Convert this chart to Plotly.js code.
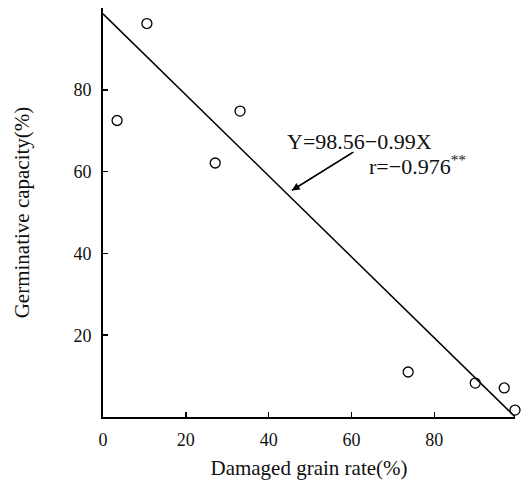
<!DOCTYPE html>
<html>
<head>
<meta charset="utf-8">
<script src="https://cdn.plot.ly/plotly-3.0.1.min.js"></script>
<style>html,body{margin:0;padding:0;background:#fff;}#chart{width:528px;height:490px;}</style>
</head>
<body>
<div id="chart"></div>
<script>
const damagedRate = [3.4, 10.6, 27.1, 33.1, 73.7, 89.9, 96.9, 99.5];
const germCapacity = [72.5, 96.2, 62.1, 74.8, 11.0, 8.3, 7.1, 1.7];
// Regression line Y = 98.56 - 0.99X
const regIntercept = 98.56;
const regSlope = -0.99;
const regX = [0, 99.56];
const regY = regX.map(x => regIntercept + regSlope * x);
const xTicks = [0, 20, 40, 60, 80];
const yTicks = [20, 40, 60, 80];

const font = "'Liberation Serif', 'Times New Roman', serif";

const traces = [
  {x: regX, y: regY, mode: 'lines', line: {color: '#000', width: 1.5}, hoverinfo: 'skip', cliponaxis: false},
  {x: damagedRate, y: germCapacity, mode: 'markers', cliponaxis: false,
   marker: {symbol: 'circle-open', size: 10, color: '#000', line: {width: 1.3, color: '#000'}}}
];

const pw = 528 - 103 - 13, ph = 490 - 8 - 73;
const px = v => (v - 103) / pw, py = v => 1 - (v - 8) / ph;

// arrow pointing at the regression line (head, tail)
const arrowHead = [45.6, 55.4];
const arrowTail = [60.5, 64.8];

const layout = {
  width: 528, height: 490,
  margin: {l: 103, r: 13, t: 8, b: 73},
  paper_bgcolor: '#fff', plot_bgcolor: '#fff',
  showlegend: false,
  font: {family: font, size: 18, color: '#111'},
  xaxis: {
    range: [0, 99.5], tickvals: xTicks, ticks: 'inside', ticklen: 5, tickwidth: 1.5, tickcolor: '#000',
    showline: true, linecolor: '#000', linewidth: 2, showgrid: false, zeroline: false,
    tickfont: {family: font, size: 18}, ticklabelstandoff: 5,
    title: {text: 'Damaged grain rate(%)', font: {family: font, size: 21}, standoff: 12}
  },
  yaxis: {
    range: [0, 100], tickvals: yTicks, ticks: 'inside', ticklen: 5, tickwidth: 1.5, tickcolor: '#000',
    showline: true, linecolor: '#000', linewidth: 2, showgrid: false, zeroline: false,
    tickfont: {family: font, size: 18}, ticklabelstandoff: 6,
    title: {text: 'Germinative capacity(%)', font: {family: font, size: 21}, standoff: 38}
  },
  shapes: [
    {type: 'line', xref: 'x', yref: 'y', x0: arrowTail[0], y0: arrowTail[1], x1: arrowHead[0], y1: arrowHead[1],
     line: {color: '#000', width: 1.3}}
  ],
  annotations: [
    {x: arrowHead[0], y: arrowHead[1], xref: 'x', yref: 'y', text: '', showarrow: true, arrowhead: 2, arrowsize: 1.2,
     arrowwidth: 1.3, arrowcolor: '#000', axref: 'x', ayref: 'y', ax: arrowTail[0], ay: arrowTail[1]},
    {x: px(285), y: py(141), xref: 'paper', yref: 'paper', text: 'Y=98.56−0.99X', showarrow: false,
     xanchor: 'left', yanchor: 'middle', font: {family: font, size: 22, color: '#111'}},
    {x: px(367), y: py(165), xref: 'paper', yref: 'paper', text: 'r=−0.976<sup>**</sup>', showarrow: false,
     xanchor: 'left', yanchor: 'middle', font: {family: font, size: 22, color: '#111'}}
  ]
};

Plotly.newPlot('chart', traces, layout, {displayModeBar: false, staticPlot: true});
</script>
</body>
</html>
